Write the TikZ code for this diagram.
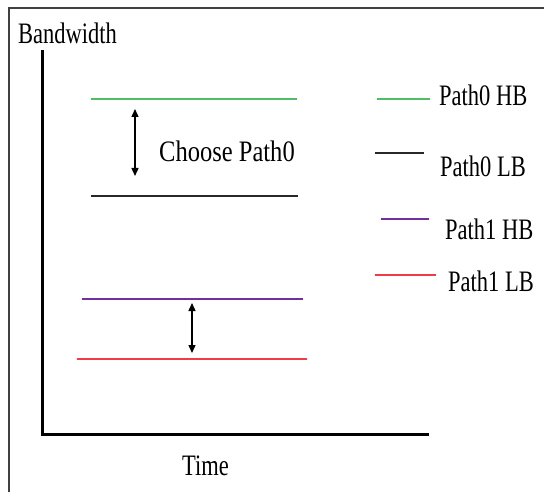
\documentclass[tikz,border=0pt]{standalone}
\usepackage{fontspec}
\usepackage{graphicx}
\setmainfont{Liberation Serif}
\usetikzlibrary{arrows.meta}
\definecolor{hbgreen}{RGB}{80,190,100}
\definecolor{lbblack}{RGB}{40,40,40}
\definecolor{hbpurple}{RGB}{112,48,160}
\definecolor{lbred}{RGB}{240,60,70}
\newcommand{\tallText}[2][1]{\scalebox{#1}[1.32]{#2}}
\tikzset{
  lbl/.style={inner sep=0pt, anchor=base west, font=\fontsize{22.5}{26}\selectfont},
  lvl/.style={line width=1.6pt},
  axisline/.style={line width=3pt, line cap=rect},
  dbl/.style={line width=1.4pt, {Triangle[length=8pt,width=7pt]}-{Triangle[length=8pt,width=7pt]}},
  frameline/.style={line width=2pt, draw=black!75}
}
\begin{document}
\begin{tikzpicture}[x=1pt,y=-1pt]
\useasboundingbox (0,0) rectangle (544,492);
% frame
\coordinate (f1) at (9,492);
\coordinate (f2) at (9,8);
\coordinate (f3) at (544,8);
\draw[frameline] (f1) -- (f2) -- (f3);
% axes
\coordinate (ytop) at (42,52);
\coordinate (origin) at (42,434);
\coordinate (xend) at (427,434);
\draw[axisline] (ytop) -- (origin) -- (xend);
\node[lbl] (bw) at (18,44) {\tallText{Bandwidth}};
\node[lbl] (time) at (182,475) {\tallText{Time}};
% levels
\coordinate (g1) at (91,99);  \coordinate (g2) at (297,99);
\coordinate (k1) at (91,196); \coordinate (k2) at (298,196);
\coordinate (p1) at (82,299); \coordinate (p2) at (303,299);
\coordinate (r1) at (77,359); \coordinate (r2) at (307,359);
\draw[lvl, hbgreen] (g1) -- (g2);
\draw[lvl, lbblack] (k1) -- (k2);
\draw[lvl, hbpurple] (p1) -- (p2);
\draw[lvl, lbred] (r1) -- (r2);
% arrows
\coordinate (a1t) at (135,109); \coordinate (a1b) at (135,176);
\coordinate (a2t) at (192,303); \coordinate (a2b) at (192,353);
\draw[dbl] (a1t) -- (a1b);
\draw[dbl] (a2t) -- (a2b);
\node[lbl] (choose) at (159,162) {\tallText[1.09]{Choose Path0}};
% legend
\coordinate (lg1) at (377,99);  \coordinate (lg2) at (430,99);
\coordinate (lk1) at (375,153); \coordinate (lk2) at (424,153);
\coordinate (lp1) at (381,219); \coordinate (lp2) at (429,219);
\coordinate (lr1) at (375,275); \coordinate (lr2) at (436,275);
\draw[lvl, hbgreen] (lg1) -- (lg2);
\draw[lvl, lbblack] (lk1) -- (lk2);
\draw[lvl, hbpurple] (lp1) -- (lp2);
\draw[lvl, lbred] (lr1) -- (lr2);
\node[lbl] (t0h) at (439,106) {\tallText{Path0 HB}};
\node[lbl] (t0l) at (440,177) {\tallText{Path0 LB}};
\node[lbl] (t1h) at (445,240) {\tallText{Path1 HB}};
\node[lbl] (t1l) at (448,291) {\tallText{Path1 LB}};
\end{tikzpicture}
\end{document}
